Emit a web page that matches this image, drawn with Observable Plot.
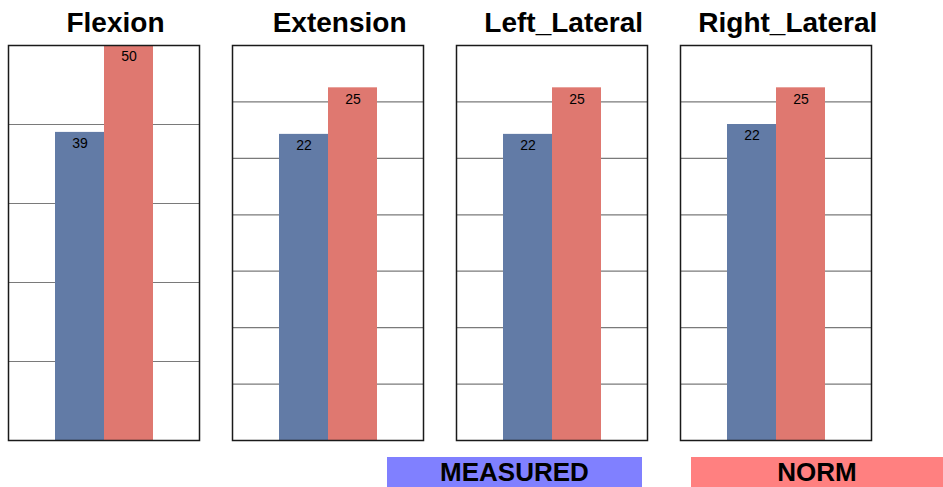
<!DOCTYPE html>
<html><head><meta charset="utf-8">
<script src="https://cdn.jsdelivr.net/npm/d3@7"></script>
<script src="https://cdn.jsdelivr.net/npm/@observablehq/plot@0.6"></script>
<style>
body{margin:0;background:#fff;font-family:"Liberation Sans",Arial,sans-serif;}
#root{position:relative;width:943px;height:487px;overflow:hidden;background:#fff;}
.title{position:absolute;top:9px;height:28px;line-height:28px;font-weight:bold;font-size:28px;text-align:center;width:260px;color:#000;white-space:nowrap;}
.panel{position:absolute;}
.legend{position:absolute;top:457px;height:30px;line-height:31px;font-weight:bold;font-size:26px;text-align:center;color:#000;}
</style></head>
<body><div id="root"></div>
<script>
const categories = ["Flexion", "Extension", "Left_Lateral", "Right_Lateral"];
const series = ["MEASURED", "NORM"];
const measured = [39, 21.7, 21.7, 22.4];
const norm = [50, 25, 25, 25];
const yMax = [50, 28, 28, 28];
const gridStep = [10, 4, 4, 4];
const barColors = ["#627ba6", "#df7870"];
const legendColors = ["#8080ff", "#ff8080"];

(function () {
  const root = document.getElementById("root");
  const m = 4, innerW = 191, innerH = 395;
  const pitch = 224.1, firstLeft = 7.5, panelTop = 44.5;

  categories.forEach((cat, i) => {
    const data = [
      {series: series[0], value: measured[i]},
      {series: series[1], value: norm[i]}
    ];
    const ticks = d3.range(gridStep[i], yMax[i], gridStep[i]);
    const left = firstLeft + i * pitch;
    const plot = Plot.plot({
      width: innerW + 2 * m,
      height: innerH + 2 * m,
      marginTop: m, marginBottom: m, marginLeft: m, marginRight: m,
      style: {fontFamily: '"Liberation Sans", Arial, sans-serif', background: "transparent", overflow: "visible"},
      x: {domain: series, paddingInner: 0, paddingOuter: 0.94, axis: null},
      y: {domain: [0, yMax[i]], axis: null},
      color: {domain: series, range: barColors},
      marks: [
        Plot.gridY(ticks, {stroke: "#7a7a7a", strokeOpacity: 1, strokeWidth: 1.2}),
        Plot.barY(data, {x: "series", y: "value", fill: "series", inset: 0}),
        Plot.text(data, {x: "series", y: "value", text: d => d3.format(".0f")(d.value), lineAnchor: "top", dy: 6, fontSize: 14, fill: "#000"}),
        Plot.frame({stroke: "#1a1a1a", strokeWidth: 1.5})
      ]
    });
    const wrap = document.createElement("div");
    wrap.className = "panel";
    wrap.style.left = (left - m) + "px";
    wrap.style.top = (panelTop - m) + "px";
    wrap.appendChild(plot);
    root.appendChild(wrap);

    const t = document.createElement("div");
    t.className = "title";
    t.textContent = cat;
    t.style.left = (left + innerW / 2 + 12.5 - 130) + "px";
    root.appendChild(t);
  });

  const legendPos = [[387, 255], [691, 252]];
  series.forEach((s, i) => {
    const d = document.createElement("div");
    d.className = "legend";
    d.textContent = s;
    d.style.left = legendPos[i][0] + "px";
    d.style.width = legendPos[i][1] + "px";
    d.style.background = legendColors[i];
    root.appendChild(d);
  });
})();
</script>
</body></html>
